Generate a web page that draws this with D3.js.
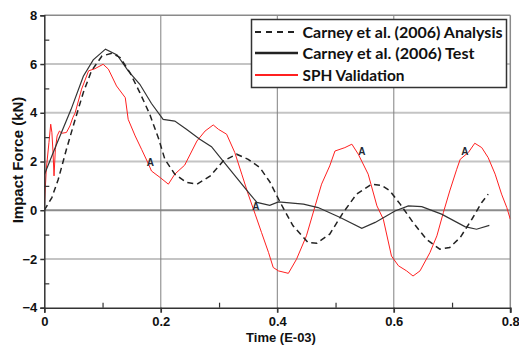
<!DOCTYPE html>
<html>
<head>
<meta charset="utf-8">
<script src="https://cdn.jsdelivr.net/npm/d3@7"></script>
<style>
  body { margin: 0; background: #fff; }
  svg { display: block; }
</style>
</head>
<body>
<script>
// Chart data (time in E-03 s, force in kN)
var analysis = [
  [0, 0], [0.013, 0.52], [0.024, 1.27], [0.038, 2.5], [0.053, 3.73], [0.067, 4.83],
  [0.081, 5.72], [0.099, 6.33], [0.116, 6.44], [0.130, 6.27], [0.147, 5.65], [0.164, 4.83],
  [0.181, 3.94], [0.196, 2.95], [0.207, 2.09], [0.224, 1.48], [0.244, 1.14], [0.262, 1.07],
  [0.285, 1.41], [0.307, 2.02], [0.330, 2.30], [0.350, 2.09], [0.370, 1.75], [0.387, 1.17],
  [0.405, 0.32], [0.427, -0.64], [0.453, -1.33], [0.468, -1.35], [0.490, -0.98], [0.513, -0.1],
  [0.536, 0.66], [0.562, 1.07], [0.579, 1.02], [0.593, 0.8], [0.611, 0.25], [0.633, -0.5],
  [0.656, -1.19], [0.679, -1.6], [0.696, -1.53], [0.714, -1.12], [0.734, -0.37], [0.751, 0.32],
  [0.762, 0.66]
];
var test = [
  [0, 1.45], [0.02, 2.65], [0.046, 4.14], [0.067, 5.5], [0.084, 6.17], [0.105, 6.61],
  [0.125, 6.37], [0.144, 5.72], [0.164, 5.17], [0.184, 4.38], [0.204, 3.73], [0.224, 3.66],
  [0.244, 3.32], [0.267, 2.91], [0.287, 2.61], [0.307, 2.02], [0.330, 1.34], [0.353, 0.66],
  [0.365, 0.32], [0.387, 0.2], [0.402, 0.34], [0.445, 0.25], [0.470, 0.11], [0.508, -0.3],
  [0.545, -0.74], [0.568, -0.5], [0.602, -0.03], [0.625, 0.18], [0.648, 0.15], [0.682, -0.16],
  [0.722, -0.67], [0.742, -0.78], [0.764, -0.62]
];
var sph = [
  [0, 0.1], [0.0034, 1.68], [0.008, 2.78], [0.011, 3.53], [0.013, 3.2], [0.015, 2.38],
  [0.0167, 1.41], [0.019, 2.5], [0.022, 3.05], [0.026, 3.25], [0.030, 3.16], [0.038, 3.19],
  [0.044, 3.46], [0.049, 3.8], [0.053, 4.0], [0.064, 4.97], [0.076, 5.72], [0.087, 5.81],
  [0.101, 5.99], [0.110, 5.79], [0.124, 5.1], [0.139, 4.62], [0.144, 3.73], [0.156, 3.05],
  [0.167, 2.5], [0.179, 1.89], [0.184, 1.61], [0.199, 1.34], [0.213, 1.07], [0.224, 1.48],
  [0.241, 1.85], [0.262, 2.84], [0.276, 3.25], [0.290, 3.5], [0.299, 3.32], [0.313, 3.12],
  [0.327, 2.37], [0.339, 1.48], [0.350, 0.66], [0.362, -0.16], [0.373, -0.92], [0.385, -1.74],
  [0.393, -2.35], [0.402, -2.49], [0.419, -2.59], [0.433, -2.01], [0.450, -1.05], [0.465, 0.18],
  [0.476, 1.07], [0.490, 1.82], [0.499, 2.43], [0.516, 2.57], [0.528, 2.71], [0.539, 2.30],
  [0.556, 1.48], [0.571, 0.18], [0.582, -0.37], [0.596, -1.88], [0.608, -2.28], [0.622, -2.49],
  [0.633, -2.7], [0.645, -2.49], [0.662, -1.74], [0.674, -1.05], [0.685, -0.1], [0.696, 0.79],
  [0.708, 1.68], [0.714, 2.09], [0.728, 2.37], [0.739, 2.75], [0.751, 2.57], [0.762, 2.16],
  [0.774, 1.48], [0.785, 0.66], [0.794, 0.11], [0.8, -0.37]
];
// the little "A" labels the plotting program left on the curves
var markers = [[0.182, 1.97], [0.363, 0.18], [0.545, 2.43], [0.722, 2.43]];

var xMajor = [0, 0.2, 0.4, 0.6, 0.8];
var xMinor = [0.1, 0.3, 0.5, 0.7];
var yMajor = [-4, -2, 0, 2, 4, 6, 8];
var yMinor = [-3, -1, 1, 3, 5, 7];
var legendLabels = ["Carney et al. (2006) Analysis", "Carney et al. (2006) Test", "SPH Validation"];

var width = 519, height = 347;
var svg = d3.select("body").append("svg")
    .attr("width", width)
    .attr("height", height);

var x = d3.scaleLinear().domain([0, 0.8]).range([44.3, 510.3]);
var y = d3.scaleLinear().domain([-4, 8]).range([307.7, 15.3]);

var tickFont = "'Liberation Sans', Arial, sans-serif";

// gridlines
svg.append("g").selectAll("line")
    .data(yMajor.filter(function (d) { return d > -4 && d < 8; }))
    .join("line")
    .attr("x1", x(0)).attr("x2", x(0.8))
    .attr("y1", d => y(d)).attr("y2", d => y(d))
    .style("stroke", d => d === 0 ? "#8c8c8c" : "#c4c4c4")
    .style("stroke-width", 2);

svg.append("g").selectAll("line")
    .data(xMajor.filter(function (d) { return d > 0 && d < 0.8; }))
    .join("line")
    .attr("x1", d => x(d)).attr("x2", d => x(d))
    .attr("y1", y(8)).attr("y2", y(-4) + 5)
    .style("stroke", "#808080")
    .style("stroke-width", 1);

// frame top / right
svg.append("line")
    .attr("x1", x(0)).attr("x2", x(0.8)).attr("y1", y(8)).attr("y2", y(8))
    .style("stroke", "#8a8a8a").style("stroke-width", 1.5);
svg.append("line")
    .attr("x1", x(0.8)).attr("x2", x(0.8)).attr("y1", y(8)).attr("y2", y(-4) + 5)
    .style("stroke", "#8a8a8a").style("stroke-width", 1.5);

// lines
var clip = svg.append("clipPath").attr("id", "clip")
    .append("rect").attr("x", x(0)).attr("y", y(8))
    .attr("width", x(0.8) - x(0)).attr("height", y(-4) - y(8));

var line = d3.line().x(d => x(d[0])).y(d => y(d[1]));
var plot = svg.append("g").attr("clip-path", "url(#clip)");

plot.append("path").datum(sph)
    .attr("d", line)
    .attr("fill", "none")
    .style("stroke", "#ff2020")
    .style("stroke-width", 1);

plot.append("path").datum(test)
    .attr("d", line)
    .attr("fill", "none")
    .style("stroke", "#333")
    .style("stroke-width", 1.2);

plot.append("path").datum(analysis)
    .attr("d", line)
    .attr("fill", "none")
    .style("stroke", "#222")
    .style("stroke-width", 1.5)
    .style("stroke-dasharray", "6,4");

svg.append("g").selectAll("text")
    .data(markers)
    .join("text")
    .attr("x", d => x(d[0]))
    .attr("y", d => y(d[1]) + 4)
    .attr("text-anchor", "middle")
    .style("font-family", tickFont)
    .style("font-size", "10px")
    .style("font-weight", "bold")
    .style("fill", "#222833")
    .text("A");

// axes
var xAxis = svg.append("g")
    .attr("transform", "translate(0," + y(-4) + ")")
    .call(d3.axisBottom(x).tickValues(xMajor).tickSize(5).tickPadding(4).tickFormat(d3.format("")));
xAxis.select(".domain").style("stroke", "#333").style("stroke-width", 1.5);
xAxis.selectAll(".tick line").style("stroke", "#333").style("stroke-width", 1.5);
xAxis.selectAll("text")
    .style("font-family", tickFont).style("font-size", "13px").style("font-weight", "bold").style("fill", "#111");

svg.append("g")
    .attr("transform", "translate(0," + y(-4) + ")")
    .call(d3.axisTop(x).tickValues(xMinor).tickSize(5).tickFormat(""))
    .call(g => g.select(".domain").remove())
    .selectAll("line").style("stroke", "#333").style("stroke-width", 1.2);

var yAxis = svg.append("g")
    .attr("transform", "translate(" + x(0) + ",0)")
    .call(d3.axisLeft(y).tickValues(yMajor).tickSize(4).tickPadding(3));
yAxis.select(".domain").style("stroke", "#333").style("stroke-width", 1.5);
yAxis.selectAll(".tick line").style("stroke", "#333").style("stroke-width", 1.5);
yAxis.selectAll("text")
    .style("font-family", tickFont).style("font-size", "13px").style("font-weight", "bold").style("fill", "#111");

svg.append("g")
    .attr("transform", "translate(" + x(0) + ",0)")
    .call(d3.axisRight(y).tickValues(yMinor).tickSize(5).tickFormat(""))
    .call(g => g.select(".domain").remove())
    .selectAll("line").style("stroke", "#333").style("stroke-width", 1.2);

// axis titles
svg.append("text")
    .attr("x", 281).attr("y", 342)
    .attr("text-anchor", "middle")
    .style("font-family", tickFont).style("font-size", "13px").style("font-weight", "bold")
    .style("fill", "#111")
    .text("Time (E-03)");

svg.append("text")
    .attr("transform", "translate(23,160) rotate(-90)")
    .attr("text-anchor", "middle")
    .style("font-family", tickFont).style("font-size", "15px").style("font-weight", "bold")
    .style("fill", "#111")
    .text("Impact Force (kN)");

// legend
var legend = svg.append("g");
legend.append("rect")
    .attr("x", 251.5).attr("y", 19.5).attr("width", 255).attr("height", 68)
    .style("fill", "#fff").style("stroke", "#333").style("stroke-width", 1.5);

var legendRows = [
  { label: legendLabels[0], color: "#222", dash: "6,5", w: 2.2, cy: 32, tw: 200 },
  { label: legendLabels[1], color: "#222", dash: null, w: 2.6, cy: 53, tw: 172 },
  { label: legendLabels[2], color: "#ff2020", dash: null, w: 2, cy: 75, tw: 102 }
];
var rows = legend.selectAll(".row").data(legendRows).join("g").attr("class", "row");
rows.append("line")
    .attr("x1", 255).attr("x2", 298)
    .attr("y1", d => d.cy).attr("y2", d => d.cy)
    .style("stroke", d => d.color)
    .style("stroke-width", d => d.w)
    .style("stroke-dasharray", d => d.dash);
rows.append("text")
    .attr("x", 302.5)
    .attr("y", d => d.cy + 5.5)
    .attr("textLength", d => d.tw)
    .attr("lengthAdjust", "spacingAndGlyphs")
    .style("font-family", "Lato, 'Open Sans', sans-serif")
    .style("font-size", "15.5px").style("font-weight", "bold")
    .style("fill", "#111")
    .text(d => d.label);
</script>
</body>
</html>
